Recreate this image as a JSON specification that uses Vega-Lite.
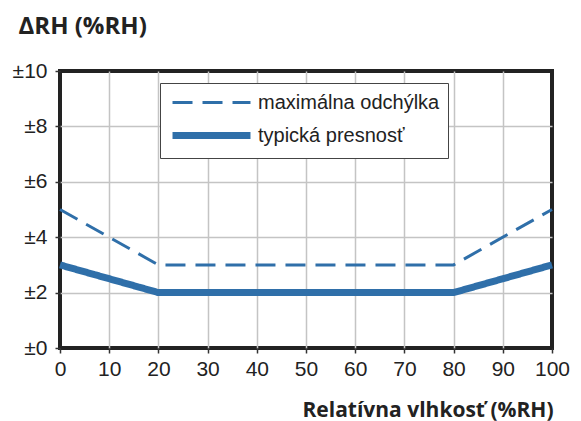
{
  "$schema": "https://vega.github.io/schema/vega-lite/v6.json",
  "width": 492,
  "height": 277,
  "autosize": {"type": "none"},
  "padding": {"left": 60, "top": 71, "right": 29, "bottom": 73},
  "background": "white",
  "data": {
    "values": [
      {"series": "maximálna odchýlka", "rh": 0, "drh": 5},
      {"series": "maximálna odchýlka", "rh": 20, "drh": 3},
      {"series": "maximálna odchýlka", "rh": 80, "drh": 3},
      {"series": "maximálna odchýlka", "rh": 100, "drh": 5},
      {"series": "typická presnosť", "rh": 0, "drh": 3},
      {"series": "typická presnosť", "rh": 20, "drh": 2},
      {"series": "typická presnosť", "rh": 80, "drh": 2},
      {"series": "typická presnosť", "rh": 100, "drh": 3}
    ]
  },
  "mark": {"type": "line", "clip": false},
  "encoding": {
    "x": {
      "field": "rh",
      "type": "quantitative",
      "scale": {"domain": [0, 100], "nice": false},
      "axis": {
        "values": [0, 10, 20, 30, 40, 50, 60, 70, 80, 90, 100],
        "domain": false,
        "grid": true,
        "gridColor": "#c4c4c4",
        "gridWidth": 1.5,
        "gridOpacity": {"condition": {"test": "datum.value == 0 || datum.value == 100", "value": 0}, "value": 1},
        "tickColor": "#333",
        "tickSize": 5,
        "tickWidth": 1.5,
        "labelFont": "Liberation Sans",
        "labelFontSize": 21,
        "labelColor": "#222",
        "labelPadding": 5,
        "labelFlush": false,
        "title": "Relatívna vlhkosť (%RH)",
        "titleFont": "Open Sans",
        "titleFontSize": 21,
        "titleFontWeight": "bold",
        "titleColor": "#222",
        "titleAnchor": "end",
        "titleAlign": "right",
        "titleBaseline": "alphabetic",
        "titleX": 493,
        "titleY": 68
      }
    },
    "y": {
      "field": "drh",
      "type": "quantitative",
      "scale": {"domain": [0, 10], "nice": false},
      "axis": {
        "values": [0, 2, 4, 6, 8, 10],
        "labelExpr": "'±' + datum.value",
        "domain": false,
        "grid": true,
        "gridColor": "#c4c4c4",
        "gridWidth": 1.5,
        "gridOpacity": {"condition": {"test": "datum.value == 0 || datum.value == 10", "value": 0}, "value": 1},
        "tickColor": "#333",
        "tickSize": 5,
        "tickWidth": 1.5,
        "labelFont": "Liberation Sans",
        "labelFontSize": 21,
        "labelColor": "#222",
        "labelPadding": 8,
        "labelFlush": false,
        "title": "ΔRH (%RH)",
        "titleFont": "Open Sans",
        "titleFontSize": 24,
        "titleFontWeight": "bold",
        "titleColor": "#222",
        "titleAngle": 0,
        "titleAlign": "left",
        "titleBaseline": "alphabetic",
        "titleX": -42,
        "titleY": -38
      }
    },
    "color": {
      "field": "series",
      "type": "nominal",
      "scale": {"domain": ["maximálna odchýlka", "typická presnosť"], "range": ["#2f6fa9", "#2f6fa9"]},
      "legend": {
        "orient": "none",
        "legendX": 100,
        "legendY": 12,
        "title": null,
        "strokeColor": "#444",
        "fillColor": "white",
        "padding": 8,
        "symbolType": "M-4,0H4",
        "symbolSize": 380,
        "symbolOffset": 30,
        "labelOffset": 33,
        "labelLimit": 400,
        "labelFont": "Liberation Sans",
        "labelFontSize": 20,
        "labelColor": "#222",
        "rowPadding": 8
      }
    },
    "strokeDash": {
      "field": "series",
      "type": "nominal",
      "scale": {"domain": ["maximálna odchýlka", "typická presnosť"], "range": [[20, 10], [1, 0]]}
    },
    "strokeWidth": {
      "field": "series",
      "type": "nominal",
      "scale": {"domain": ["maximálna odchýlka", "typická presnosť"], "range": [3, 7]}
    }
  },
  "config": {
    "view": {"stroke": "#222", "strokeWidth": 4}
  }
}
